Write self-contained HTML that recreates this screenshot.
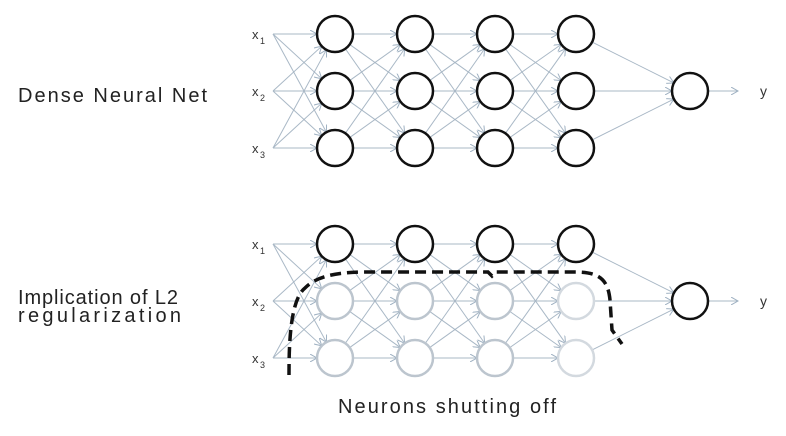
<!DOCTYPE html>
<html><head><meta charset="utf-8"><style>
body{margin:0;background:#fff;width:786px;height:431px;overflow:hidden}
</style></head><body>
<svg id="s" width="786" height="431" xmlns="http://www.w3.org/2000/svg" font-family="Liberation Sans, sans-serif">
<defs><marker id="a" markerWidth="8" markerHeight="8" refX="7" refY="4" orient="auto" markerUnits="userSpaceOnUse"><path d="M0,0 L7,4 L0,8" fill="none" stroke="#9fb1c2" stroke-width="1"/></marker></defs>
<text x="18" y="102" font-size="20" fill="#222" textLength="189" lengthAdjust="spacing">Dense Neural Net</text>
<text x="18" y="304" font-size="20" fill="#222" textLength="160" lengthAdjust="spacing">Implication of L2</text>
<text x="18" y="322" font-size="20" fill="#222" textLength="163" lengthAdjust="spacing">regularization</text>
<text x="338" y="413" font-size="20" fill="#222" textLength="218" lengthAdjust="spacing">Neurons shutting off</text>
</svg>
<script>
var s=document.getElementById('s'),NS='http://www.w3.org/2000/svg';
function el(t,a){var e=document.createElementNS(NS,t);for(var k in a)e.setAttribute(k,a[k]);s.appendChild(e);return e;}
var cols=[335,415,495,576],R=18;
function net(y0,dim){
 var rows=[y0,y0+57,y0+114];
 for(var i=0;i<3;i++){
  var t=el('text',{x:252,y:rows[i]+5,'font-size':13,fill:'#333'});t.textContent='x';
  var sub=el('text',{x:260,y:rows[i]+10,'font-size':9,fill:'#333'});sub.textContent=String(i+1);
 }
 function line(x1,y1,x2,y2){var dx=x2-x1,dy=y2-y1,L=Math.hypot(dx,dy);el('line',{x1:x1,y1:y1,x2:x2-dx/L*R,y2:y2-dy/L*R,stroke:'#a9b8c6','stroke-width':1,'marker-end':'url(#a)'});}
 function line2(x1,y1,x2,y2){var dx=x2-x1,dy=y2-y1,L=Math.hypot(dx,dy);el('line',{x1:x1+dx/L*R,y1:y1+dy/L*R,x2:x2-dx/L*R,y2:y2-dy/L*R,stroke:'#a9b8c6','stroke-width':1,'marker-end':'url(#a)'});}
 for(var i=0;i<3;i++)for(var j=0;j<3;j++)line(273,rows[i],cols[0],rows[j]);
 for(var c=0;c<3;c++)for(var i=0;i<3;i++)for(var j=0;j<3;j++)line2(cols[c],rows[i],cols[c+1],rows[j]);
 for(var i=0;i<3;i++)line2(cols[3],rows[i],690,rows[1]);
 el('line',{x1:708,y1:rows[1],x2:738,y2:rows[1],stroke:'#a9b8c6','stroke-width':1,'marker-end':'url(#a)'});
 var y=el('text',{x:760,y:rows[1]+5,'font-size':14,fill:'#333'});y.textContent='y';
 for(var c=0;c<4;c++)for(var i=0;i<3;i++){
  var d=dim&&i>0;
  el('circle',{cx:cols[c],cy:rows[i],r:R,fill:'#fff',stroke:d?(c==3?'#d3d9df':'#bcc5ce'):'#111','stroke-width':2.5});
 }
 el('circle',{cx:690,cy:rows[1],r:R,fill:'#fff',stroke:'#111','stroke-width':2.5});
}
net(34,false);net(244,true);
el('path',{d:'M289,375 C289,345 290,300 305,288 C315,278 330,273 360,272 L488,272 L492,276 L496,272 L575,272 C600,272 608,280 610,300 L612,330 L622,344',fill:'none',stroke:'#111','stroke-width':3.5,'stroke-dasharray':'11,6'});
</script>
</body></html>
